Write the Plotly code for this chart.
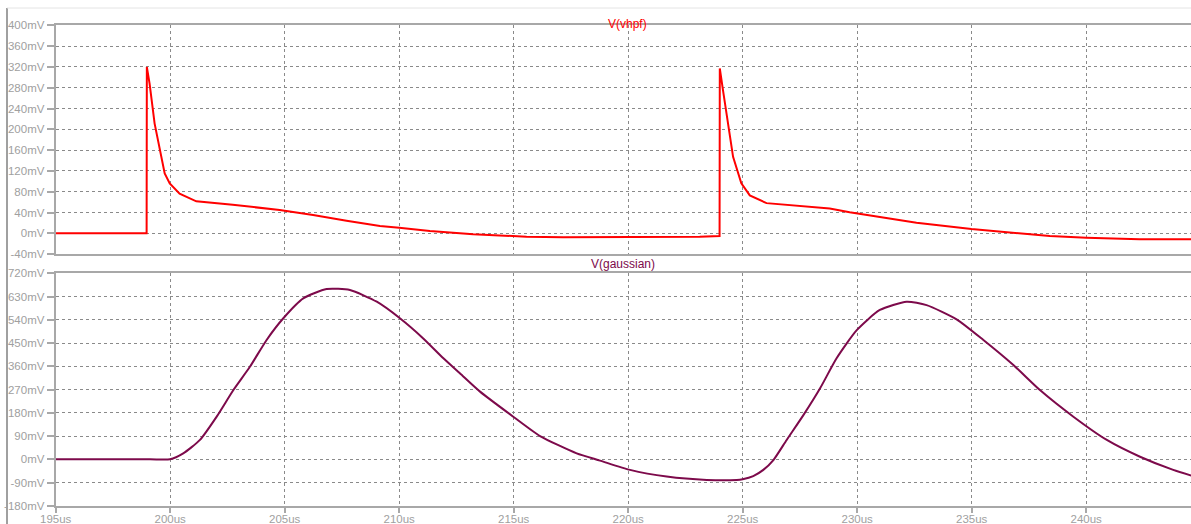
import plotly.graph_objects as go

# ---- data (time in us, voltage in mV) ----
t_vhpf = [195.0, 198.97, 198.98, 199.10, 199.32, 199.54, 199.76, 199.98, 200.41, 201.14,
          202.73, 204.78, 205.66, 206.24, 207.70, 209.16, 210.0, 211.34, 213.23, 214.54,
          215.56, 217.16, 222.98, 223.12, 223.99,
          224.0, 224.14, 224.36, 224.58, 224.94, 225.31, 226.04, 227.35, 228.80, 229.67,
          231.13, 232.59, 234.99, 236.95, 238.41, 240.01, 242.33, 244.6]
v_vhpf = [0, 0, 320, 288, 211, 160, 115, 96, 76, 61.5,
          55, 44.7, 38, 35, 24, 14, 10.8, 4.4, -2, -4.5,
          -6.4, -7.7, -7.7, -6.4, -5.2,
          317, 275, 211, 147, 96, 73, 58, 52.5, 47.5, 40.3,
          30, 20.4, 8.3, 0, -5.2, -8.4, -11.5, -11.5]

t_gauss = [195.0, 199.12, 199.99, 200.57, 201.30, 202.03, 202.76, 203.48, 204.21, 204.94,
           205.81, 206.83, 207.85, 209.02, 210.03, 211.05, 211.93, 212.65, 213.53, 214.98,
           216.15, 217.75, 218.77, 220.08, 221.68, 223.43, 224.74, 225.0, 225.46, 225.90,
           226.34, 226.92, 227.65, 228.38, 229.10, 229.98, 230.99, 232.16, 233.03, 234.34,
           235.51, 236.82, 237.98, 239.44, 240.90, 242.35, 243.80, 244.6]
v_gauss = [0, 0, 0, 23, 75, 165, 268, 358, 462, 546,
           623, 659, 655, 610, 546, 468, 391, 333, 262, 165,
           90, 23, -5, -41, -67, -80, -80, -77, -65, -41,
           -3, 75, 171, 275, 391, 500, 578, 610, 597, 542,
           462, 365, 268, 165, 75, 10, -41, -63]

x_ticks = [195, 200, 205, 210, 215, 220, 225, 230, 235, 240]
x_labels = [f"{v}us" for v in x_ticks]
y1_ticks = list(range(-40, 401, 40))
y1_labels = [f"{v}mV" for v in y1_ticks]
y2_ticks = list(range(-180, 721, 90))
y2_labels = [f"{v}mV" for v in y2_ticks]

W, H = 1191, 524
px_x = lambda p: p / W
px_y = lambda p: (H - p) / H

AX_COL = "#a8a8a8"
GRID_COL = "#8a8a8a"
LBL_COL = "#a0a0a0"
FONT = "Liberation Sans, Arial, sans-serif"
FS = 11.5

fig = go.Figure()
fig.add_trace(go.Scatter(x=t_vhpf, y=v_vhpf, mode="lines", line=dict(color="#ff0000", width=2),
                         xaxis="x", yaxis="y", showlegend=False))
fig.add_trace(go.Scatter(x=t_gauss, y=v_gauss, mode="lines", line=dict(color="#7d0a4b", width=2, shape="spline", smoothing=0.6),
                         xaxis="x2", yaxis="y2", showlegend=False))

xr = [195.0, 195.0 + (W - 55.7) / 22.9]
xdom = [px_x(55.7), 1.0]
common_x = dict(range=xr, domain=xdom, tickvals=x_ticks, showgrid=True, gridcolor=GRID_COL,
                griddash="3px,3px", gridwidth=1, showline=True, linecolor=AX_COL, linewidth=2,
                mirror=True, zeroline=False, automargin=False,
                tickfont=dict(family=FONT, size=FS, color=LBL_COL))

fig.update_layout(
    width=W, height=H, margin=dict(l=0, r=0, t=0, b=0),
    paper_bgcolor="white", plot_bgcolor="white",
    xaxis=dict(**common_x, anchor="y", showticklabels=False, ticks=""),
    xaxis2=dict(**common_x, anchor="y2", ticktext=x_labels, ticks="outside", ticklen=5,
                tickcolor=AX_COL, tickwidth=2, ticklabelstandoff=-4),
    yaxis=dict(domain=[px_y(254.1), px_y(25.3)], range=[-40, 400], tickvals=y1_ticks, ticktext=y1_labels,
               showgrid=True, gridcolor=GRID_COL, griddash="3px,3px", gridwidth=1,
               showline=True, linecolor=AX_COL, linewidth=2, zeroline=False, automargin=False,
               ticks="outside", ticklen=7, tickcolor=AX_COL, tickwidth=2,
               tickfont=dict(family=FONT, size=FS, color=LBL_COL), anchor="x"),
    yaxis2=dict(domain=[px_y(505.8), px_y(273.3)], range=[-180, 720], tickvals=y2_ticks, ticktext=y2_labels,
                showgrid=True, gridcolor=GRID_COL, griddash="3px,3px", gridwidth=1,
                showline=True, linecolor=AX_COL, linewidth=2, zeroline=False, automargin=False,
                ticks="outside", ticklen=7, tickcolor=AX_COL, tickwidth=2,
                tickfont=dict(family=FONT, size=FS, color=LBL_COL), anchor="x2"),
    annotations=[
        dict(text="V(vhpf)", x=px_x(627), y=px_y(15), xref="paper", yref="paper", showarrow=False,
             font=dict(family=FONT, size=12, color="#ff0000")),
        dict(text="V(gaussian)", x=px_x(623), y=px_y(264), xref="paper", yref="paper", showarrow=False,
             font=dict(family=FONT, size=12, color="#7d0a4b")),
    ],
    shapes=[
        dict(type="line", xref="paper", yref="paper", x0=px_x(7), x1=px_x(7), y0=px_y(8), y1=0,
             line=dict(color="#a0a0a0", width=2)),
        dict(type="line", xref="paper", yref="paper", x0=px_x(7), x1=1, y0=px_y(8), y1=px_y(8),
             line=dict(color="#e4e4e4", width=1)),
    ],
)

fig.write_html("out.html")
